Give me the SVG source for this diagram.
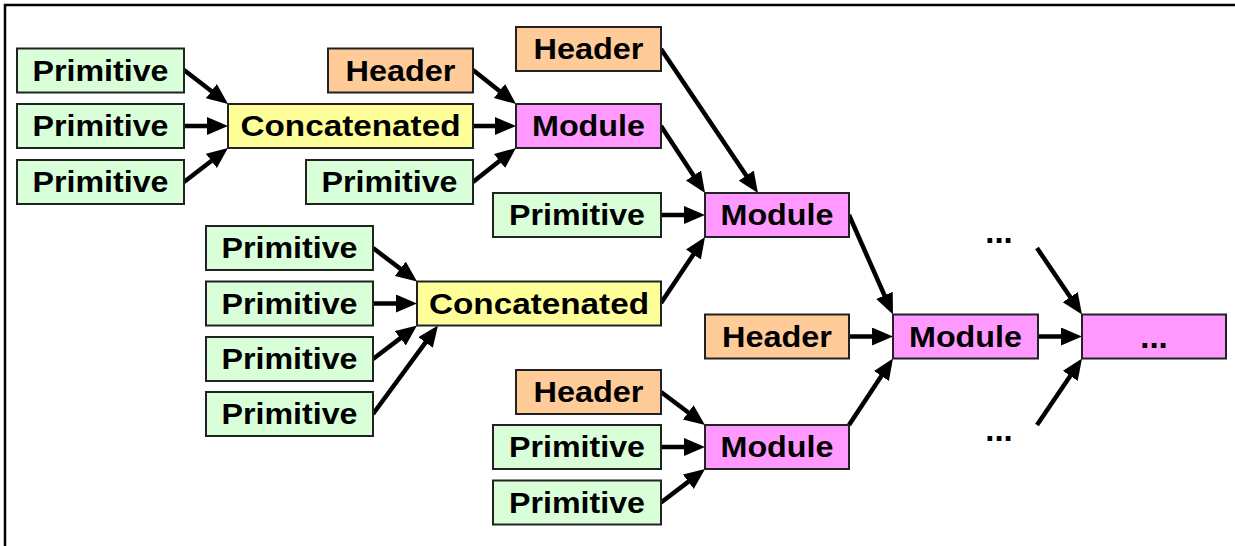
<svg xmlns="http://www.w3.org/2000/svg" width="1235" height="546" viewBox="0 0 1235 546">
<style>
rect{stroke:#222;stroke-width:2}
.p{fill:#d9ffd9}.h{fill:#ffcc99}.m{fill:#ff99ff}.c{fill:#ffff99}
text{font-family:"Liberation Sans",Arial,sans-serif;font-weight:bold;font-size:29px;text-anchor:middle;fill:#000}
text.d{font-size:33px}
#connectors line{stroke:#000;stroke-width:4.5;marker-end:url(#ah)}
</style>
<defs>
<marker id="ah" markerUnits="userSpaceOnUse" markerWidth="22" markerHeight="20" refX="6" refY="9" orient="auto">
<path d="M0,0 L21,9 L0,18 z" fill="#000"/>
</marker>
</defs>
<rect x="0" y="0" width="1235" height="546" style="fill:#fff;stroke:none"/>
<path d="M5,546 V5 H1235" fill="none" stroke="#000" stroke-width="2.5"/>
<g id="connectors">
<line x1="184" y1="70" x2="216.1" y2="94.8"/>
<line x1="184" y1="126" x2="213" y2="126"/>
<line x1="184" y1="182" x2="216.1" y2="157.2"/>
<line x1="473" y1="70" x2="504.2" y2="94.7"/>
<line x1="473" y1="126" x2="501" y2="126"/>
<line x1="473" y1="182" x2="504.2" y2="157.3"/>
<line x1="661" y1="49" x2="749.6" y2="180.6"/>
<line x1="661" y1="126" x2="696.8" y2="180.5"/>
<line x1="661" y1="215" x2="690" y2="215"/>
<line x1="661" y1="303" x2="696.7" y2="249.5"/>
<line x1="373" y1="248" x2="405.1" y2="272.4"/>
<line x1="373" y1="303.5" x2="402" y2="303.5"/>
<line x1="373" y1="359" x2="405.1" y2="334.6"/>
<line x1="373" y1="414" x2="429.1" y2="337.6"/>
<line x1="849" y1="215" x2="886.9" y2="300.8"/>
<line x1="849" y1="336.5" x2="878" y2="336.5"/>
<line x1="849" y1="425" x2="884.7" y2="371"/>
<line x1="1038" y1="336.5" x2="1067" y2="336.5"/>
<line x1="1037" y1="248" x2="1073.6" y2="302.1"/>
<line x1="1037" y1="425" x2="1073.6" y2="370.9"/>
<line x1="661" y1="392" x2="693" y2="416"/>
<line x1="661" y1="447" x2="690" y2="447"/>
<line x1="661" y1="502.5" x2="693.1" y2="478.1"/>
</g>
<g id="p1"><rect class="p" x="17" y="48.5" width="167" height="44"/><text x="100.5" y="80.5" textLength="136" lengthAdjust="spacingAndGlyphs">Primitive</text></g>
<g id="p2"><rect class="p" x="17" y="104" width="167" height="44"/><text x="100.5" y="136" textLength="136" lengthAdjust="spacingAndGlyphs">Primitive</text></g>
<g id="p3"><rect class="p" x="17" y="160" width="167" height="44"/><text x="100.5" y="192" textLength="136" lengthAdjust="spacingAndGlyphs">Primitive</text></g>
<g id="c1"><rect class="c" x="228" y="104" width="245" height="44"/><text x="350.5" y="136" textLength="220" lengthAdjust="spacingAndGlyphs">Concatenated</text></g>
<g id="h1"><rect class="h" x="328" y="48.5" width="145" height="44"/><text x="400.5" y="80.5" textLength="110" lengthAdjust="spacingAndGlyphs">Header</text></g>
<g id="p4"><rect class="p" x="306" y="160" width="167" height="44"/><text x="389.5" y="192" textLength="136" lengthAdjust="spacingAndGlyphs">Primitive</text></g>
<g id="h2"><rect class="h" x="516" y="27" width="145" height="44"/><text x="588.5" y="59" textLength="110" lengthAdjust="spacingAndGlyphs">Header</text></g>
<g id="m1"><rect class="m" x="516" y="104" width="145" height="44"/><text x="588.5" y="136" textLength="113" lengthAdjust="spacingAndGlyphs">Module</text></g>
<g id="p5"><rect class="p" x="493" y="193" width="168" height="44"/><text x="577" y="225" textLength="136" lengthAdjust="spacingAndGlyphs">Primitive</text></g>
<g id="m2"><rect class="m" x="705" y="193" width="144" height="44"/><text x="777" y="225" textLength="113" lengthAdjust="spacingAndGlyphs">Module</text></g>
<g id="pa"><rect class="p" x="206" y="226" width="167" height="44"/><text x="289.5" y="258" textLength="136" lengthAdjust="spacingAndGlyphs">Primitive</text></g>
<g id="pb"><rect class="p" x="206" y="281.5" width="167" height="44"/><text x="289.5" y="313.5" textLength="136" lengthAdjust="spacingAndGlyphs">Primitive</text></g>
<g id="pc"><rect class="p" x="206" y="337" width="167" height="44"/><text x="289.5" y="369" textLength="136" lengthAdjust="spacingAndGlyphs">Primitive</text></g>
<g id="pd"><rect class="p" x="206" y="392" width="167" height="44"/><text x="289.5" y="424" textLength="136" lengthAdjust="spacingAndGlyphs">Primitive</text></g>
<g id="c2"><rect class="c" x="417" y="281.5" width="244" height="44"/><text x="539" y="313.5" textLength="220" lengthAdjust="spacingAndGlyphs">Concatenated</text></g>
<g id="h3"><rect class="h" x="705" y="314.5" width="144" height="44"/><text x="777" y="346.5" textLength="110" lengthAdjust="spacingAndGlyphs">Header</text></g>
<g id="m3"><rect class="m" x="893" y="314.5" width="145" height="44"/><text x="965.5" y="346.5" textLength="113" lengthAdjust="spacingAndGlyphs">Module</text></g>
<g id="e"><rect class="m" x="1082" y="314.5" width="144" height="44"/><text class="d" x="1154" y="348">...</text></g>
<g id="dots-top"><text class="d" x="999" y="243">...</text></g>
<g id="dots-bottom"><text class="d" x="999" y="441">...</text></g>
<g id="h4"><rect class="h" x="516" y="370" width="145" height="44"/><text x="588.5" y="402" textLength="110" lengthAdjust="spacingAndGlyphs">Header</text></g>
<g id="p6"><rect class="p" x="493" y="425" width="168" height="44"/><text x="577" y="457" textLength="136" lengthAdjust="spacingAndGlyphs">Primitive</text></g>
<g id="m4"><rect class="m" x="705" y="425" width="144" height="44"/><text x="777" y="457" textLength="113" lengthAdjust="spacingAndGlyphs">Module</text></g>
<g id="p7"><rect class="p" x="493" y="480.5" width="168" height="44"/><text x="577" y="512.5" textLength="136" lengthAdjust="spacingAndGlyphs">Primitive</text></g>
</svg>
